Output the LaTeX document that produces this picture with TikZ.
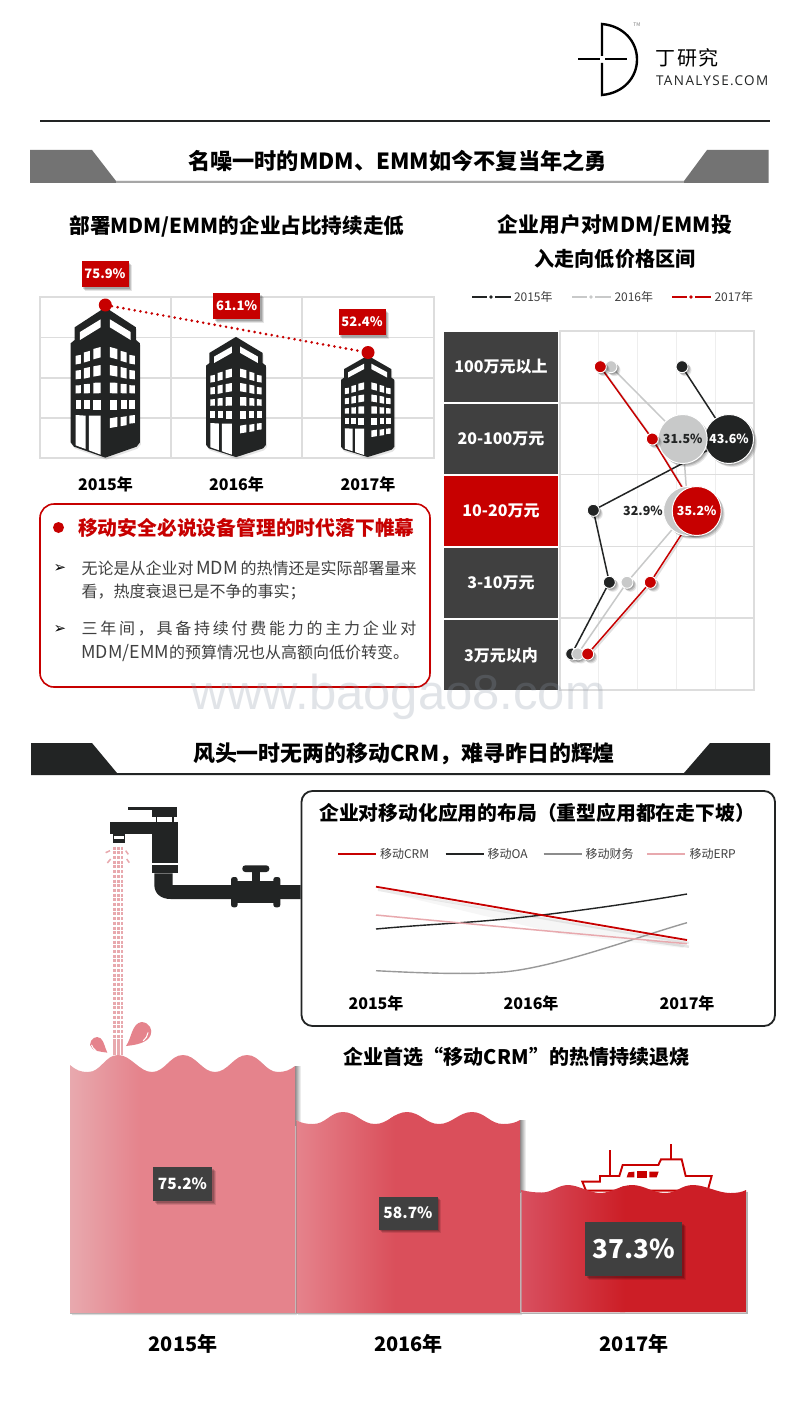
\documentclass[tikz,border=0pt]{standalone}
\usepackage{fontspec}
\setmainfont{Noto Sans CJK SC}
\newfontfamily\logolat[LetterSpace=10.5]{Open Sans}
\newfontfamily\logocjk[LetterSpace=8]{Noto Sans CJK SC}
\newfontfamily\dejavu{DejaVu Sans}
\newfontfamily\wmfont{Liberation Sans}
\usetikzlibrary{shadows,calc}
\definecolor{dk}{HTML}{222424}
\definecolor{tbl}{HTML}{404040}
\definecolor{rd}{HTML}{C70000}
\definecolor{gc}{HTML}{C8C9C9}
\definecolor{gridc}{HTML}{DDDDDD}
\definecolor{gridl}{HTML}{EEEEEE}
\definecolor{wp}{HTML}{E5838C}
\definecolor{wd}{HTML}{E8A9AE}
\definecolor{wbb}{HTML}{DA4F5B}
\definecolor{wca}{HTML}{D85060}
\definecolor{wcb}{HTML}{CC1E26}
\definecolor{wmc}{HTML}{8A95A5}
\newcommand{\fs}[1]{\fontsize{#1}{#1}\selectfont}
\pgfdeclarelayer{under}
\pgfdeclarelayer{lines}
\pgfsetlayers{under,lines,main}
\tikzset{
  softsh/.style={general shadow={fill=black,opacity=.10,shadow xshift=3.5pt,shadow yshift=-3.5pt},
                 general shadow={fill=black,opacity=.14,shadow xshift=2.5pt,shadow yshift=-2.5pt},
                 general shadow={fill=black,opacity=.16,shadow xshift=1.5pt,shadow yshift=-1.5pt}},
  txt/.style={inner sep=0pt,outer sep=0pt,text=black},
  ttl/.style={txt,font=\bfseries\fs{#1}},
  ttl/.default=20,
  redlab/.style={fill=rd,text=white,font=\bfseries\fs{13},minimum width=47pt,minimum height=26pt,inner sep=0pt,softsh},
  graylab/.style={fill=tbl,text=white,font=\bfseries\fs{#1},inner sep=0pt,softsh},
  rowlab/.style={fill=tbl,text=white,font=\bfseries\fs{16},minimum width=114pt,minimum height=70pt,inner sep=0pt},
  dot/.style={circle,draw=white,line width=.9pt,minimum size=12pt,inner sep=0pt,softsh},
  bigdot/.style={circle,draw=white,line width=1pt,minimum size=49pt,inner sep=0pt,font=\bfseries\fs{12.5},softsh},
  serie/.style={line width=1.5pt},
  leg/.style={txt,font=\fs{12},text=tbl},
  gline/.style={draw=gridc,line width=1.2pt},
  wavesh/.style={fill=black,opacity=.13},
  stream/.style={wd,line width=2.4pt,dash pattern=on 3pt off 1.7pt}
}
\newcommand{\win}[5]{\fill[white] ({#1},{#3+#5}) -- ({#2},{#3-#5}) -- ({#2},{#4-#5}) -- ({#1},{#4+#5}) -- cycle;}
\newcommand{\bldg}[4]{%
\begin{scope}[shift={(#1,#2)},xscale=#3/3,yscale=#4/3]
\begin{scope}[shift={(-226,-165)}]
\fill[dk,general shadow={fill=black,opacity=.10,shadow xshift=1pt,shadow yshift=-2pt}] (226,172) -- (318,232) -- (318,270) -- (330,280) -- (330,577) -- (320,590) -- (226,623) -- (132,590) -- (122,577) -- (122,280) -- (134,270) -- (134,232) -- cycle;
\fill[white] (150,246) -- (212,208) -- (212,232) -- (150,270) -- cycle;
\fill[white] (240,208) -- (302,246) -- (302,270) -- (240,232) -- cycle;
\win{137}{153}{316}{342}{1.5}\win{162}{180}{305}{335}{2.5}\win{190}{212}{294}{325}{3}
\win{137}{153}{361}{387}{1}\win{162}{180}{353}{384}{2}\win{190}{212}{347}{378}{2}
\win{137}{153}{406}{430}{.5}\win{162}{180}{402}{430}{.5}\win{190}{212}{398}{430}{.5}
\win{137}{153}{450}{477}{0}\win{162}{180}{450}{477}{0}\win{190}{212}{449}{480}{0}
\win{240}{262}{294}{325}{-3}\win{272}{290}{305}{335}{-2.5}\win{298}{315}{316}{342}{-1.5}
\win{240}{262}{347}{378}{-2}\win{272}{290}{353}{384}{-2}\win{298}{315}{361}{387}{-1}
\win{240}{262}{398}{430}{-.5}\win{272}{290}{402}{430}{-.5}\win{298}{315}{406}{430}{-.5}
\win{240}{262}{449}{480}{0}\win{272}{290}{450}{477}{0}\win{298}{315}{450}{477}{0}
\win{240}{262}{503}{532}{2}\win{272}{290}{500}{527}{1.5}\win{298}{315}{496}{520}{1}
\fill[white] (137,495) -- (167,497) -- (167,597) -- (137,586) -- cycle;
\fill[white] (177,497) -- (212,497) -- (212,614) -- (177,601) -- cycle;
\end{scope}
\end{scope}}
\begin{document}
\begin{tikzpicture}[x=1pt,y=-1pt]
\useasboundingbox (0,0) rectangle (800,1423);
\begin{pgfonlayer}{under}
\fill[white] (0,0) rectangle (800,1423);
\end{pgfonlayer}

% ---- logo
\draw[black,line width=2.4pt] (602,56) -- (602,24) .. controls (624,26) and (637,42) .. (637,59.5) .. controls (637,77) and (624,93) .. (602,95) -- (602,63);
\draw[black,line width=2pt] (578,59.5) -- (599.5,59.5);
\draw[black,line width=2pt] (605,59.5) -- (627,59.5);
\node[txt,font=\fs{5},text=gray] (tm) at (637,25) {TM};
\node[txt,anchor=west,font=\logocjk\fs{20}] (lg1) at (655.5,58) {丁研究};
\node[txt,anchor=west,font=\logolat\fs{13.5},text=dk] (lg2) at (656,80.5) {TANALYSE.COM};
\draw[dk,line width=2.4pt] (40,121) -- (770,121);

% ---- header 1
\fill[black!55] (30,150) -- (92,150) -- (116,181) -- (684,181) -- (707,150) -- (768.5,150) -- (768.5,183) -- (30,183) -- cycle;
\fill[black!35] (116,181) rectangle (684,183);
\node[ttl=22.2] (h1) at (397.5,161) {名噪一时的MDM、EMM如今不复当年之勇};

% ---- left chart
\node[ttl=20.6] (t1) at (237,226) {部署MDM/EMM的企业占比持续走低};
\draw[gline] (40,297) rectangle (434,458);
\draw[gline] (171,297) -- (171,458) (302,297) -- (302,458) (40,337.5) -- (434,337.5) (40,378) -- (434,378) (40,418) -- (434,418);
\bldg{105.3}{305}{1}{1}
\bldg{236}{335}{.865}{.80}
\bldg{367.7}{354}{.77}{.675}
\node[circle,fill=rd,minimum size=13pt,inner sep=0pt] (d1) at (105.3,305) {};
\node[circle,fill=rd,minimum size=13pt,inner sep=0pt] (d3) at (368,352.5) {};
\draw[rd,line width=2.9pt,line cap=round,dash pattern=on 0pt off 5.8pt] (d1) -- (d3);
\node[redlab] (l1) at (105,274) {75.9\%};
\node[redlab] (l2) at (236.7,306) {61.1\%};
\node[redlab] (l3) at (362,322) {52.4\%};
\node[ttl=16] (y1) at (105.5,484) {2015年};
\node[ttl=16] (y2) at (236.5,484) {2016年};
\node[ttl=16] (y3) at (368,484) {2017年};

% ---- text box
\draw[rd,line width=1.6pt,fill=white,rounded corners=14pt,general shadow={fill=black,opacity=.10,shadow xshift=1pt,shadow yshift=-1pt}] (40,504) rectangle (430,687);
\node[circle,fill=rd,minimum size=11pt,inner sep=0pt] (bl) at (58.5,527.5) {};
\node[txt,anchor=west,font=\bfseries\fs{19.8},text=rd] (bt) at (78,527.5) {移动安全必说设备管理的时代落下帷幕};
\node[txt,font=\dejavu\fs{15},text=black] (ar1) at (60,568) {➢};
\node[txt,font=\dejavu\fs{15},text=black] (ar2) at (60,629) {➢};
\node[txt,anchor=west,font=\fs{16},text=tbl] (p1) at (81.5,568) {\makebox[335pt][s]{无论是从企业对\hfil{\fs{18}MDM}\hfil 的热情还是实际部署量来}};
\node[txt,anchor=west,font=\fs{16},text=tbl] (p2) at (81.5,592) {看，热度衰退已是不争的事实；};
\node[txt,anchor=west,font=\fs{16},text=tbl] (p3) at (81.5,629) {\makebox[335pt][s]{三\hfil 年\hfil 间\hfil ，\hfil 具\hfil 备\hfil 持\hfil 续\hfil 付\hfil 费\hfil 能\hfil 力\hfil 的\hfil 主\hfil 力\hfil 企\hfil 业\hfil 对}};
\node[txt,anchor=west,font=\fs{16},text=tbl] (p4) at (81.5,653) {{\fs{17.8}MDM/EMM}的预算情况也从高额向低价转变。};

% ---- right chart
\node[ttl=20.8] (t2a) at (615,225) {企业用户对MDM/EMM投};
\node[ttl=20.1] (t2b) at (615,259) {入走向低价格区间};
\draw[dk,line width=1.3pt] (472,297) -- (487,297) (495,297) -- (511,297);
\fill[dk] (491,297) circle (1.8pt);
\node[leg,anchor=west] (lg15) at (514,297) {2015年};
\draw[gc,line width=1.3pt] (572,297) -- (587,297) (595,297) -- (611,297);
\fill[gc] (591,297) circle (1.8pt);
\node[leg,anchor=west] (lg16) at (614.5,297) {2016年};
\draw[rd,line width=1.3pt] (672,297) -- (687,297) (695,297) -- (711,297);
\fill[rd] (691,297) circle (1.8pt);
\node[leg,anchor=west] (lg17) at (714.5,297) {2017年};
\node[rowlab] (r1) at (501,367) {\raisebox{-1.5pt}{100万元以上}};
\node[rowlab] (r2) at (501,439) {\raisebox{-1.5pt}{20-100万元}};
\node[rowlab,fill=rd] (r3) at (501,511) {\raisebox{-1.5pt}{10-20万元}};
\node[rowlab] (r4) at (501,583) {\raisebox{-1.5pt}{3-10万元}};
\node[rowlab] (r5) at (501,655) {\raisebox{-1.5pt}{3万元以内}};
\begin{pgfonlayer}{under}
\draw[gridl,line width=1pt] (598.7,331) -- (598.7,690) (637.7,331) -- (637.7,690) (676.7,331) -- (676.7,690) (715.5,331) -- (715.5,690);
\draw[gline] (560,331) rectangle (754,690);
\draw[gline] (560,403) -- (754,403) (560,474.5) -- (754,474.5) (560,546.5) -- (754,546.5) (560,618) -- (754,618);
\end{pgfonlayer}
% 2015
\node[dot,fill=dk] (a1) at (682,366.7) {};
\node[dot,fill=dk] (a3) at (593.3,510.3) {};
\node[dot,fill=dk] (a4) at (609.3,582.3) {};
\node[dot,fill=dk] (a5) at (571.7,654) {};
% 2016
\node[dot,fill=gc] (b1) at (611,366.7) {};
\node[dot,fill=gc] (b4) at (627,582.3) {};
\node[dot,fill=gc] (b5) at (577.7,654) {};
% big 2015, 2016
\node[bigdot,fill=dk,text=white] (a2) at (729,439) {43.6\%};
\node[bigdot,fill=gc,text=dk] (b2) at (682.7,439) {31.5\%};
\node[bigdot,fill=gc] (b3) at (688,511) {};
% 2017
\node[dot,fill=rd] (c1) at (600.3,366.7) {};
\node[dot,fill=rd] (c2) at (652.3,439) {};
\node[dot,fill=rd] (c4) at (650.3,582.3) {};
\node[dot,fill=rd] (c5) at (587.7,654) {};
\node[bigdot,fill=rd,text=white] (c3) at (696.7,511) {35.2\%};
\node[txt,font=\bfseries\fs{12.5},text=dk] (lb3) at (643,510.7) {32.9\%};
\begin{pgfonlayer}{lines}
\begin{scope}[transform canvas={shift={(1.5,1.5)}},draw opacity=.12,line width=2pt,draw=black]
\draw (c1.center) -- (c2.center) -- (c3.center) -- (c4.center) -- (c5.center);
\end{scope}
\draw[serie,gc] (b1) -- (b2) (b2) -- (b3) (b3) -- (b4) (b4) -- (b5);
\draw[serie,dk] (a1) -- (a2) (a2) -- (a3) (a3) -- (a4) (a4) -- (a5);
\draw[serie,rd] (c1) -- (c2) (c2) -- (c3) (c3) -- (c4) (c4) -- (c5);
\end{pgfonlayer}

% ---- header 2
\fill[dk] (31,743) -- (92,743) -- (117,773) -- (684,773) -- (710,743) -- (770,743) -- (770,775) -- (31,775) -- cycle;
\node[ttl=21.9] (h2) at (404,754) {风头一时无两的移动CRM，难寻昨日的辉煌};

% ---- faucet (zoom units)
\begin{scope}[shift={(60,790)},scale=1/3]
\fill[dk] (204,52) -- (275,52) -- (275,60) -- (204,60) -- cycle;
\fill[dk] (275,52) rectangle (350,80);
\fill[dk] (287,80) rectangle (292,96);
\fill[dk] (336,80) rectangle (341,96);
\fill[dk] (150,95) rectangle (353,133);
\fill[dk] (275,133) rectangle (353,220);
\fill[dk] (158,133) rectangle (195,158);
\fill[white] (161,137) rectangle (192,146);
\fill[dk] (275,226) rectangle (353,250);
\fill[dk] (283,250) -- (338,250) -- (338,285) -- (722,285) -- (722,327) -- (332,327) .. controls (302,327) and (283,310) .. (283,285) -- cycle;
\fill[dk,rounded corners=2.5pt] (513,261) rectangle (533,352);
\fill[dk,rounded corners=2.5pt] (640,261) rectangle (661,352);
\fill[dk] (530,272) rectangle (642,340);
\fill[dk] (575,245) rectangle (601,272);
\fill[dk,rounded corners=3pt] (547,226) rectangle (628,246);
% water
\draw[stream] (163,170) -- (163,795);
\draw[stream] (175,170) -- (175,795);
\draw[stream] (186,170) -- (186,795);
\draw[wd,line width=1.5pt] (137,188) -- (150,182) (142,219) -- (152,207) (197,182) -- (205,193) (200,207) -- (208,218);
\end{scope}

% ---- chart box
\draw[dk,line width=1.8pt,fill=white,rounded corners=11pt] (301.5,791) rectangle (775,1026);
\node[ttl=19.8] (t3) at (537,813) {企业对移动化应用的布局（重型应用都在走下坡）};
\draw[rd,line width=1.4pt] (338,854) -- (376,854);
\node[leg,anchor=west] (m1) at (380,854) {移动CRM};
\draw[dk,line width=1.4pt] (445.7,854) -- (483.5,854);
\node[leg,anchor=west] (m2) at (487.5,854) {移动OA};
\draw[black!45,line width=1.4pt] (543.5,854) -- (581.7,854);
\node[leg,anchor=west] (m3) at (585.5,854) {移动财务};
\draw[wd,line width=1.4pt] (647,854) -- (685,854);
\node[leg,anchor=west] (m4) at (689.5,854) {移动ERP};
\coordinate (c15) at (376,886.7);
\coordinate (c17) at (687,940);
\coordinate (e15) at (376,915);
\coordinate (e17) at (687,943.7);
\coordinate (o15) at (376,929);
\coordinate (o17) at (687,894);
\coordinate (f15) at (376,970.7);
\coordinate (f17) at (687,922.7);
\fill[black,opacity=.035] (385,892) -- (687,942) -- (683,948) -- (560,934) -- cycle;
\draw[black,opacity=.08,line width=2.5pt] ($(c15)+(2,3)$) .. controls (480,907) and (580,925) .. ($(c17)+(2,3)$);
\draw[black,opacity=.10,line width=2.5pt] ($(e17)+(-40,-3)$) -- ($(e17)+(2,3)$);
\draw[black!40,line width=1.4pt] (f15) .. controls (420,973) and (470,975) .. (506.7,971.7) .. controls (560,966) and (640,936) .. (f17);
\draw[dk,line width=1.4pt] (o15) .. controls (430,924) and (470,923) .. (520,917.5) .. controls (580,911) and (640,902) .. (o17);
\draw[wd,line width=1.5pt] (e15) .. controls (470,924) and (580,934) .. (e17);
\draw[rd,line width=1.8pt] (c15) .. controls (480,904) and (580,922) .. (c17);
\node[ttl=16] (z1) at (376,1003) {2015年};
\node[ttl=16] (z2) at (531,1003) {2016年};
\node[ttl=16] (z3) at (687,1003) {2017年};
\node[ttl=20] (t4) at (516.5,1057) {企业首选“移动CRM”的热情持续退烧};

% ---- water block 1
\def\waveA{(70,1065) .. controls (76,1070) and (80,1072) .. (88,1072) .. controls (101,1072) and (105,1055) .. (118,1055) .. controls (131,1055) and (139,1072) .. (152,1072) .. controls (165,1072) and (170,1055) .. (183,1055) .. controls (196,1055) and (202,1072) .. (215,1072) .. controls (228,1072) and (234,1055) .. (247,1055) .. controls (260,1055) and (265,1072) .. (278,1072) .. controls (285,1072) and (290,1070) .. (295,1066) -- (295,1313) -- (70,1313) -- cycle}
\def\waveB{(296,1120) .. controls (301,1123) and (306,1124) .. (313,1124) .. controls (326,1124) and (330,1112) .. (343,1112) .. controls (356,1112) and (362,1124) .. (375,1124) .. controls (388,1124) and (394,1112) .. (407,1112) .. controls (420,1112) and (426,1124) .. (439,1124) .. controls (452,1124) and (459,1112) .. (472,1112) .. controls (485,1112) and (490,1124) .. (503,1124) .. controls (510,1124) and (515,1123) .. (520,1120) -- (520,1313) -- (296,1313) -- cycle}
\def\waveC{(521,1190) .. controls (530,1192) and (535,1192.5) .. (542,1192.5) .. controls (552,1192.5) and (558,1185) .. (568,1185) .. controls (578,1185) and (590,1193) .. (600,1193) .. controls (612,1193) and (620,1185) .. (632,1185) .. controls (644,1185) and (653,1193) .. (665,1193) .. controls (677,1193) and (681,1185) .. (693,1185) .. controls (705,1185) and (718,1193) .. (730,1193) .. controls (738,1193) and (742,1192) .. (746,1190) -- (746,1312) -- (521,1312) -- cycle}

\begin{scope}[shift={(2,2)}]\fill[wavesh] \waveA;\end{scope}
\begin{scope}[shift={(1,1)}]\fill[wavesh] \waveA;\end{scope}
\shade[left color=black!45,right color=white] (295,1066) rectangle (301,1125);
\begin{scope}
\clip \waveA;
\fill[wp] (140,1040) rectangle (300,1320);
\shade[left color=wd,right color=wp] (70,1040) rectangle (140,1320);
\end{scope}
% drops
\begin{scope}[shift={(60,790)},scale=1/3]
\fill[wp] (198,768) .. controls (215,745) and (215,700) .. (245,696) .. controls (270,698) and (278,720) .. (272,735) .. controls (262,760) and (225,765) .. cycle;
\draw[white,line width=1pt,line cap=round] (264,728) .. controls (262,738) and (258,746) .. (250,752);
\fill[wp] (142,788) .. controls (125,785) and (95,785) .. (90,765) .. controls (90,745) and (110,735) .. (122,745) .. controls (133,755) and (135,775) .. cycle;
\draw[white,line width=1pt,line cap=round] (95,765) .. controls (97,772) and (101,778) .. (108,782);
\draw[stream] (163,755) -- (163,797);
\draw[stream] (175,755) -- (175,797);
\draw[stream] (186,755) -- (186,797);
\end{scope}

% ---- water block 2
\begin{scope}[shift={(2,2)}]\fill[wavesh] \waveB;\end{scope}
\begin{scope}[shift={(1,1)}]\fill[wavesh] \waveB;\end{scope}
\shade[left color=black!45,right color=white] (520,1120) rectangle (526,1192);
\begin{scope}
\clip \waveB;
\fill[wbb] (390,1100) rectangle (525,1320);
\shade[left color=wp,right color=wbb] (296,1100) rectangle (395,1320);
\end{scope}
\draw[gray,opacity=.45,line width=.6pt] (296,1121) -- (296,1313);

% ---- ship (zoom units)
\begin{scope}[shift={(500,1120)},scale=1/3]
\draw[rd,line width=1.9pt] (330,90) -- (330,168);
\draw[rd,line width=1.9pt] (513,72) -- (513,118);
\draw[rd,line width=1.9pt,fill=white,line join=miter] (258,212) -- (247,185) -- (300,185) -- (300,168) -- (358,168) -- (368,135) -- (475,135) -- (483,118) -- (545,118) -- (557,168) -- (635,168) -- (623,212) -- cycle;
\fill[rd] (385,157) -- (403,155) -- (403,172) -- (380,172) -- cycle;
\fill[rd] (410,152) rectangle (440,175);
\fill[rd] (448,155) -- (476,155) -- (470,172) -- (448,172) -- cycle;
\end{scope}

% ---- water block 3
\begin{scope}[shift={(1.5,1.5)}]\fill[wavesh] \waveC;\end{scope}
\begin{scope}
\clip \waveC;
\fill[wcb] (620,1170) rectangle (750,1320);
\shade[left color=wca,right color=wcb] (521,1170) rectangle (625,1320);
\end{scope}
\draw[gray!60,opacity=.6,line width=.6pt] (521,1192) -- (521,1312);
\draw[black!30,line width=1.4pt] (70,1313.5) -- (747,1313.5) (747,1192) -- (747,1313.5);

\node[graylab=15.5,minimum width=59pt,minimum height=34pt] (v1) at (182.5,1184) {75.2\%};
\node[graylab=15.5,minimum width=59pt,minimum height=33pt] (v2) at (408,1213) {58.7\%};
\node[graylab=26,minimum width=97pt,minimum height=54pt] (v3) at (633.5,1249) {37.3\%};
\node[ttl=20] (w1) at (183,1344) {2015年};
\node[ttl=20] (w2) at (408.5,1344) {2016年};
\node[ttl=20] (w3) at (634,1344) {2017年};

% ---- watermark
\node[txt,font=\wmfont\fs{49},text=wmc,text opacity=.25] (wm) at (399,697) {www.baogao8.com};
\end{tikzpicture}
\end{document}
